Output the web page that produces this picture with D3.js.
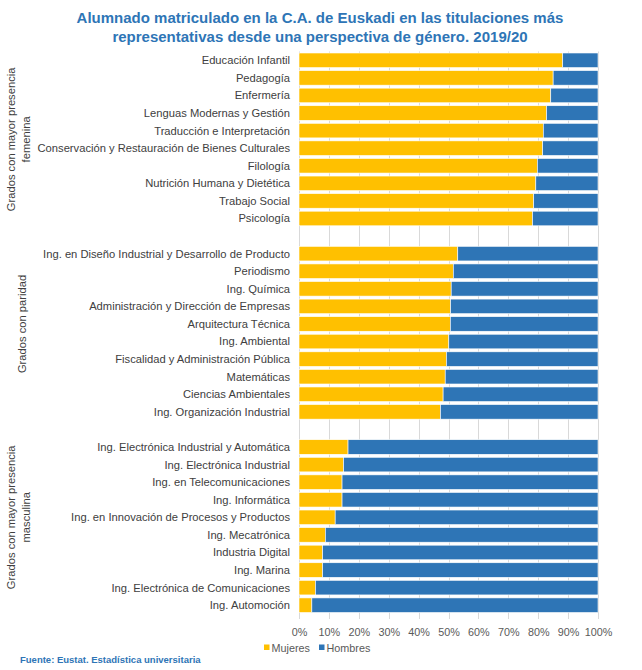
<!DOCTYPE html>
<html>
<head>
<meta charset="utf-8">
<script src="https://cdn.jsdelivr.net/npm/d3@7"></script>
<style>
  body { margin: 0; background: #fff; }
  svg { font-family: "Liberation Sans", Arial, sans-serif; }
</style>
</head>
<body>
<div id="chart"></div>
<script>

// DATA
const groupLabels = [
    ["Grados con mayor presencia", "femenina"],
    ["Grados con paridad"],
    ["Grados con mayor presencia", "masculina"]
]

const femeninaCats = ["Educación Infantil", "Pedagogía", "Enfermería", "Lenguas Modernas y Gestión",
    "Traducción e Interpretación", "Conservación y Restauración de Bienes Culturales", "Filología",
    "Nutrición Humana y Dietética", "Trabajo Social", "Psicología"]
const femeninaMujeres = [88.2, 85.0, 84.2, 82.8, 81.7, 81.5, 79.7, 79.2, 78.5, 78.1]

const paridadCats = ["Ing. en Diseño Industrial y Desarrollo de Producto", "Periodismo", "Ing. Química",
    "Administración y Dirección de Empresas", "Arquitectura Técnica", "Ing. Ambiental",
    "Fiscalidad y Administración Pública", "Matemáticas", "Ciencias Ambientales", "Ing. Organización Industrial"]
const paridadMujeres = [53.1, 51.6, 50.9, 50.7, 50.6, 50.1, 49.3, 48.9, 48.2, 47.3]

const masculinaCats = ["Ing. Electrónica Industrial y Automática", "Ing. Electrónica Industrial",
    "Ing. en Telecomunicaciones", "Ing. Informática", "Ing. en Innovación de Procesos y Productos",
    "Ing. Mecatrónica", "Industria Digital", "Ing. Marina", "Ing. Electrónica de Comunicaciones", "Ing. Automoción"]
const masculinaMujeres = [16.4, 14.9, 14.4, 14.4, 12.1, 8.8, 7.9, 7.9, 5.5, 4.3]

const xTicks = [0, 10, 20, 30, 40, 50, 60, 70, 80, 90, 100]
const seriesNames = ["Mujeres", "Hombres"]
const seriesColors = ["#FFC000", "#2E75B6"]

// build rows: a blank row between groups, like the excel sheet
const groups = [
    {cats: femeninaCats, mujeres: femeninaMujeres},
    {cats: paridadCats, mujeres: paridadMujeres},
    {cats: masculinaCats, mujeres: masculinaMujeres}
]
const rows = []
groups.forEach((g, gi) => {
    if (gi > 0) rows.push({key: "blank" + gi, group: gi, blank: true})
    g.cats.forEach((c, i) => {
        rows.push({key: c, label: c, group: gi, mujeres: g.mujeres[i], hombres: 100 - g.mujeres[i]})
    })
})

// LAYOUT
const width = 642, height = 670
const plot = {left: 299, right: 598, top: 51.5, bottom: 614}
const blue = "#2E75B6"
const labelSize = "11.2px"

const svg = d3.select("#chart").append("svg")
    .attr("width", width)
    .attr("height", height)

const x = d3.scaleLinear().domain([0, 100]).range([plot.left, plot.right])
const y = d3.scaleBand()
    .domain(rows.map(d => d.key))
    .range([plot.top, plot.bottom])
    .paddingInner(0.17)
    .paddingOuter(0.085)

// title
svg.append("text")
    .attr("x", 320)
    .attr("y", 23)
    .attr("text-anchor", "middle")
    .attr("fill", blue)
    .style("font-size", "15px")
    .style("font-weight", "bold")
    .selectAll("tspan")
    .data(["Alumnado matriculado en la C.A. de Euskadi en las titulaciones más",
           "representativas desde una perspectiva de género. 2019/20"])
    .join("tspan")
    .attr("x", 320)
    .attr("dy", (d, i) => i === 0 ? 0 : 18.5)
    .text(d => d)

// gridlines
svg.append("g")
    .attr("stroke", "#D9D9D9")
    .attr("stroke-width", 1)
    .selectAll("line")
    .data(xTicks)
    .join("line")
    .attr("x1", d => Math.round(x(d)) + 0.5)
    .attr("x2", d => Math.round(x(d)) + 0.5)
    .attr("y1", plot.top)
    .attr("y2", plot.bottom + 5)

// stacked bars
const dataRows = rows.filter(d => !d.blank)
const stack = d3.stack().keys(["mujeres", "hombres"])(dataRows)

svg.append("g")
    .selectAll("g")
    .data(stack)
    .join("g")
    .attr("fill", (d, i) => seriesColors[i])
    .selectAll("rect")
    .data(d => d)
    .join("rect")
    .attr("x", d => x(d[0]))
    .attr("width", d => x(d[1]) - x(d[0]))
    .attr("y", d => y(d.data.key))
    .attr("height", y.bandwidth())
    .attr("stroke", "#fff")
    .attr("stroke-width", 0.6)

// category labels
svg.append("g")
    .selectAll("text")
    .data(dataRows)
    .join("text")
    .attr("x", plot.left - 9)
    .attr("y", d => y(d.key) + y.bandwidth() / 2)
    .attr("dy", "0.35em")
    .attr("text-anchor", "end")
    .attr("fill", "#404040")
    .style("font-size", labelSize)
    .text(d => d.label)

// group labels, rotated and centred on the group's rows
groupLabels.forEach((lines, gi) => {
    const gRows = rows.filter(d => d.group === gi)
    const y0 = y(gRows[0].key)
    const y1 = y(gRows[gRows.length - 1].key) + y.bandwidth()
    const cy = (y0 + y1) / 2
    const cx = lines.length > 1 ? 19 : 22
    svg.append("text")
        .attr("transform", `translate(${cx},${cy}) rotate(-90)`)
        .attr("text-anchor", "middle")
        .attr("fill", "#404040")
        .style("font-size", labelSize)
        .selectAll("tspan")
        .data(lines)
        .join("tspan")
        .attr("x", 0)
        .attr("y", (d, i) => (i - (lines.length - 1) / 2) * 15)
        .attr("dy", "0.35em")
        .text(d => d)
})

// x axis
const xAxis = svg.append("g")
    .attr("transform", `translate(0,${plot.bottom + 5})`)
    .call(d3.axisBottom(x).tickValues(xTicks).tickFormat(d => d + "%").tickSize(0).tickPadding(9))
xAxis.select(".domain").remove()
xAxis.selectAll("text")
    .attr("fill", "#595959")
    .style("font-size", "10.8px")
    .style("font-family", "'Liberation Sans', Arial, sans-serif")

// legend
const legend = svg.append("g").attr("transform", "translate(264,648)")
const legendX = [0, 55]
seriesNames.forEach((name, i) => {
    const g = legend.append("g").attr("transform", `translate(${legendX[i]},0)`)
    g.append("rect")
        .attr("x", 0).attr("y", -3.5)
        .attr("width", 5.5).attr("height", 5.5)
        .attr("fill", seriesColors[i])
    g.append("text")
        .attr("x", 7.5)
        .attr("y", 0)
        .attr("dy", "0.35em")
        .attr("fill", "#595959")
        .style("font-size", "10.8px")
        .text(name)
})

// source
svg.append("text")
    .attr("x", 20)
    .attr("y", 663)
    .attr("fill", blue)
    .style("font-size", "9.5px")
    .style("font-weight", "bold")
    .text("Fuente: Eustat. Estadística universitaria")

</script>
</body>
</html>
